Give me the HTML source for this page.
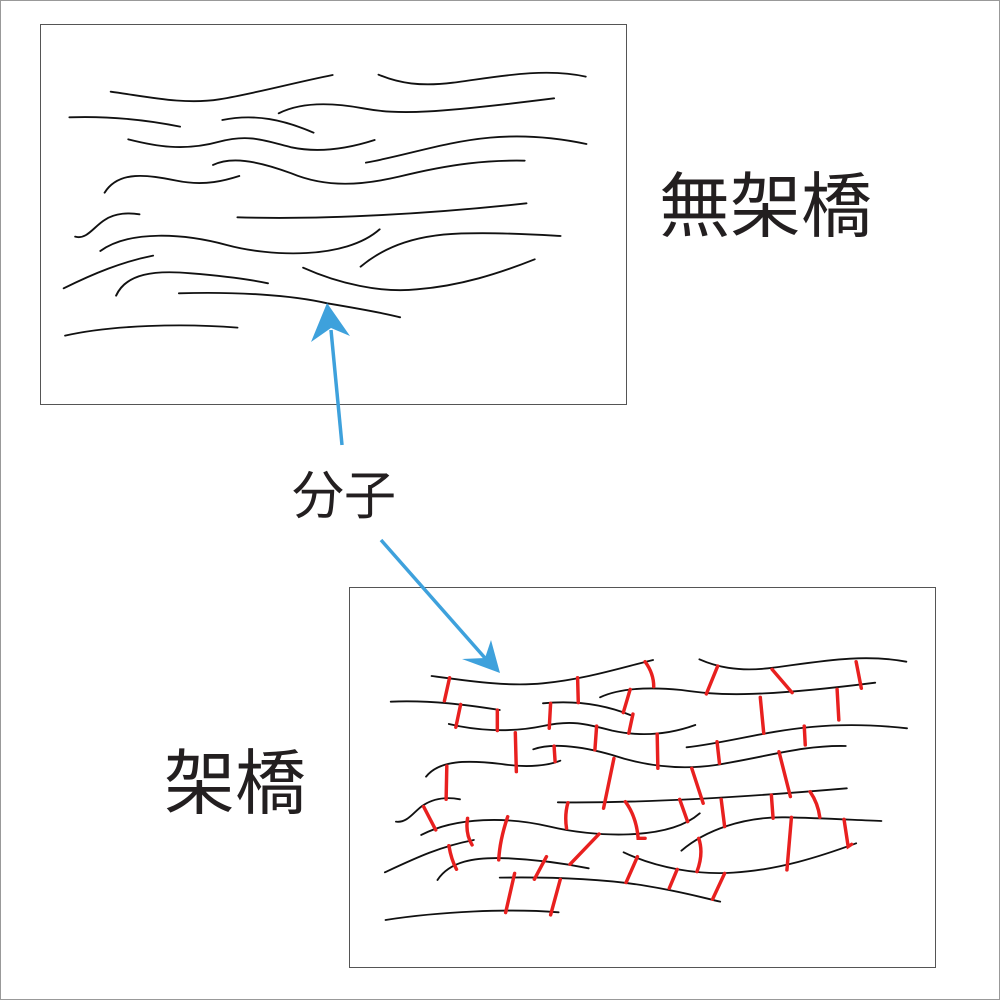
<!DOCTYPE html>
<html><head><meta charset="utf-8"><style>
html,body{margin:0;padding:0;background:#fff;}
svg{display:block;}
text{font-family:"Liberation Sans","Noto Sans CJK JP",sans-serif;fill:#231f20;}
</style></head><body>
<svg width="1000" height="1000" viewBox="0 0 1000 1000" xmlns="http://www.w3.org/2000/svg">
<rect x="0.5" y="0.5" width="999" height="999" fill="#fff" stroke="#999" stroke-width="1"/>
<rect x="40.5" y="24.5" width="586" height="380" fill="none" stroke="#555" stroke-width="1"/>
<rect x="349.5" y="587.5" width="586" height="380" fill="none" stroke="#555" stroke-width="1"/>

<g transform="translate(40,60) scale(0.359,0.3333)" fill="none" stroke="#111" stroke-width="5.5" stroke-linecap="round">
<path d="M197,95 C300,110 400,135 500,118 C600,100 700,70 815,45"/>
<path d="M943,44 C1000,70 1060,80 1150,68 C1250,55 1400,20 1520,50"/>
<path d="M665,160 C720,130 800,125 900,145 C1000,165 1100,160 1432,115"/>
<path d="M82,172 C200,168 300,180 390,200"/>
<path d="M508,180 C600,160 680,180 762,218"/>
<path d="M246,238 C320,258 400,275 500,245 C580,222 620,240 700,262 C780,280 860,265 932,240"/>
<path d="M908,308 C1100,270 1250,190 1522,252"/>
<path d="M482,315 C530,290 600,300 700,340 C800,385 900,375 1000,350 C1150,310 1250,300 1350,302"/>
<path d="M180,398 C220,330 300,345 380,362 C460,380 520,360 555,348"/>
<path d="M98,530 C130,540 150,500 180,480 C210,458 250,458 277,463"/>
<path d="M550,472 C800,480 1100,460 1355,430"/>
<path d="M168,573 C250,510 400,520 520,555 C640,590 850,600 946,508"/>
<path d="M893,620 C960,560 1050,520 1200,520 C1300,518 1400,525 1450,528"/>
<path d="M66,685 C150,640 230,605 315,587"/>
<path d="M212,707 C240,640 320,630 420,640 C500,647 570,655 635,670"/>
<path d="M733,623 C830,670 950,700 1050,688 C1170,678 1280,640 1378,598"/>
<path d="M387,700 C550,695 700,705 800,730 C900,748 960,760 1003,772"/>
<path d="M70,827 C200,795 400,790 550,803"/>
</g>

<g transform="translate(370,640) scale(0.346,0.3333)" fill="none" stroke-linecap="round">
<g stroke="#111" stroke-width="5.5">
<path d="M178,108 C300,125 400,140 500,130 C620,118 720,85 818,60"/>
<path d="M952,58 C1000,80 1060,95 1150,85 C1300,65 1420,40 1550,65"/>
<path d="M665,172 C720,145 800,140 900,150 C1000,165 1100,175 1460,128"/>
<path d="M60,185 C180,180 280,195 375,210"/>
<path d="M500,190 C600,180 680,195 752,225"/>
<path d="M228,252 C300,270 400,280 500,258 C580,240 620,250 700,272 C780,290 860,285 940,255"/>
<path d="M915,322 C1100,300 1250,230 1552,265"/>
<path d="M472,328 C520,310 600,315 700,345 C800,380 900,390 1000,375 C1150,350 1250,315 1375,318"/>
<path d="M162,410 C200,360 280,360 380,372 C460,385 520,375 550,362"/>
<path d="M75,545 C110,550 130,510 155,495 C190,472 230,472 260,478"/>
<path d="M543,487 C800,490 1100,470 1378,445"/>
<path d="M148,585 C250,530 400,530 520,560 C640,590 860,605 953,520"/>
<path d="M900,632 C970,570 1080,530 1200,532 C1300,534 1400,540 1478,543"/>
<path d="M43,697 C130,655 200,620 300,600"/>
<path d="M195,720 C230,665 300,650 400,655 C500,660 570,672 632,685"/>
<path d="M733,637 C830,685 950,705 1050,698 C1180,690 1300,650 1405,610"/>
<path d="M375,713 C550,710 700,720 800,738 C900,755 950,770 1012,785"/>
<path d="M45,840 C200,815 400,805 545,817"/>
</g>
<g stroke="#e8201f" stroke-width="10">
<path d="M230,113L215,183M600,113L602,188M795,65Q820,100 820,140M1005,78L972,162M1162,88L1220,158M1405,65L1420,145"/>
<path d="M262,193L248,262M368,210L368,272M522,190L518,265M752,148L732,218M760,222L748,280M1128,172L1138,280M1350,148L1355,240"/>
<path d="M420,278L423,395M532,318L535,365M655,258L650,330M830,282L832,385M1003,305L1010,370M1255,258L1258,315"/>
<path d="M222,378L220,478M705,355L675,505M930,385L963,490M1182,335L1215,470"/>
<path d="M155,500L190,570M572,488Q562,525 568,565M738,485Q770,530 775,595L795,595M895,478L918,545M1015,478L1025,560M1160,465L1165,535M1272,455Q1295,490 1300,532M1370,538L1382,620L1392,613"/>
<path d="M282,535Q275,580 295,615M398,530Q375,600 372,660M662,582L578,673M228,617Q235,660 250,688M950,595Q965,640 945,695M1218,532L1205,690"/>
<path d="M510,650L475,718M773,650L740,728M888,688L865,745M1025,700L990,778M418,700L392,818M550,718L522,825"/>
</g>
</g>

<g fill="#3ea1dc" stroke="#3ea1dc">
<line x1="342" y1="445" x2="331" y2="330" stroke-width="3.5"/>
<path d="M327,303 L350,336 L331,328 L311,342 Z" stroke="none"/>
<line x1="381" y1="540" x2="485" y2="658" stroke-width="3.5"/>
<path d="M500,673 L491,640 L485,658 L462,659 Z" stroke="none"/>
</g>

<text x="659" y="231" font-size="71">無架橋</text>
<text x="164" y="808" font-size="71">架橋</text>
<text x="292" y="514" font-size="52">分子</text>
</svg>
</body></html>
